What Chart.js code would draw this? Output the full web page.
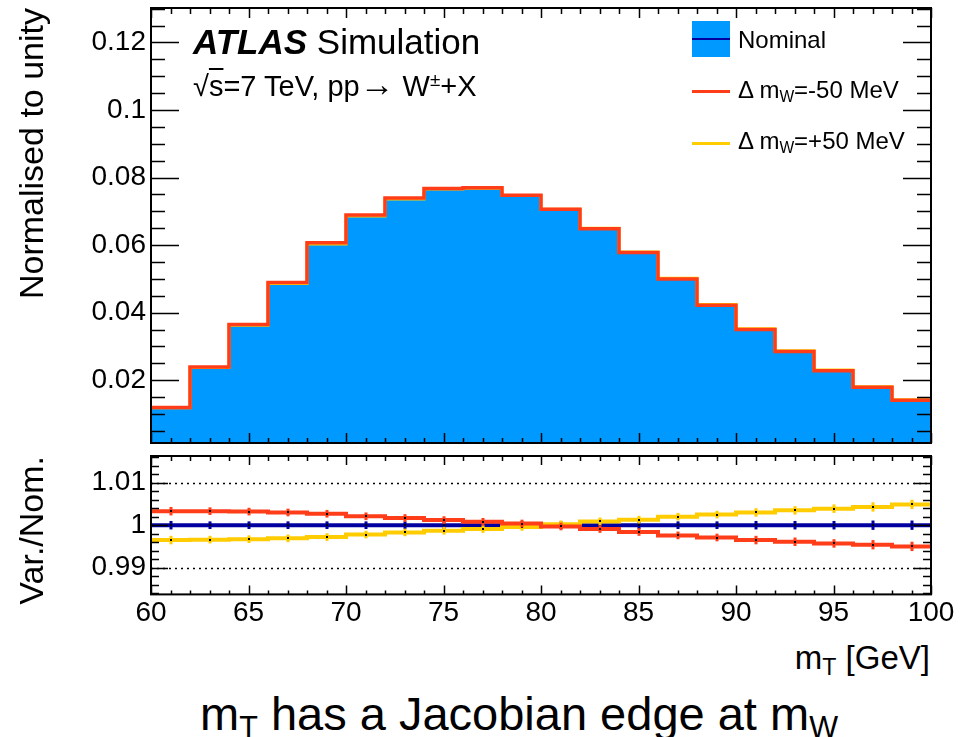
<!DOCTYPE html>
<html><head><meta charset="utf-8">
<script src="https://cdn.jsdelivr.net/npm/chart.js@4.4.1/dist/chart.umd.min.js"></script>
<style>
html,body{margin:0;padding:0;background:#fff;width:962px;height:737px;overflow:hidden;font-family:"Liberation Sans",Arial,sans-serif;}
canvas{position:absolute;left:0;}
#top{top:0;}
#bot{top:450px;}
.t{position:absolute;white-space:nowrap;color:#000;line-height:1;font-family:"Liberation Sans",Arial,sans-serif;}
.t sub{font-size:65%;vertical-align:-0.25em;line-height:0;}
.t sup{font-size:65%;vertical-align:0.55em;line-height:0;}
.sw{position:absolute;}
</style></head><body>
<canvas id="top" width="962" height="450"></canvas>
<canvas id="bot" width="962" height="182"></canvas>

<div class="t" style="left:193px;top:24px;font-size:35px;"><b><i>ATLAS</i></b> Simulation</div>
<div class="t" style="left:193px;top:72px;font-size:29px;">√<span style="text-decoration:overline">s</span>=7 TeV, pp<span style="font-size:120%;line-height:0">→</span> W<sup>±</sup>+X</div>

<div class="sw" style="left:692px;top:21px;width:38px;height:36px;background:#0099ff;"></div>
<div class="sw" style="left:692px;top:38px;width:38px;height:2px;background:#0000a0;"></div>
<div class="sw" style="left:692px;top:90px;width:38px;height:3px;background:rgb(255,61,24);"></div>
<div class="sw" style="left:692px;top:142px;width:38px;height:3px;background:rgb(255,204,0);"></div>
<div class="t" style="left:738px;top:28px;font-size:24px;">Nominal</div>
<div class="t" style="left:738px;top:78px;font-size:24px;">Δ m<sub>W</sub>=-50 MeV</div>
<div class="t" style="left:738px;top:129px;font-size:24px;">Δ m<sub>W</sub>=+50 MeV</div>

<div class="t" style="right:32px;top:641px;font-size:33px;">m<sub style="font-size:70%">T</sub> [GeV]</div>
<div class="t" style="left:200px;top:690px;font-size:47px;">m<sub>T</sub> has a Jacobian edge at m<sub>W</sub></div>

<script>
// ---- data ----
const binEdges = [60,62,64,66,68,70,72,74,76,78,80,82,84,86,88,90,92,94,96,98,100];
const nominal = [0.0119,0.0238,0.0364,0.0488,0.0605,0.0688,0.0738,0.0767,0.0769,0.0747,0.0706,0.0649,0.0579,0.0501,0.0423,0.0351,0.0286,0.0229,0.0180,0.0141];
const ratioNominal = [1,1,1,1,1,1,1,1,1,1,1,1,1,1,1,1,1,1,1,1];
const ratioMinus50 = [1.0033,1.0033,1.0032,1.0030,1.0027,1.0021,1.0017,1.0012,1.0008,1.0004,0.9997,0.9991,0.9984,0.9976,0.9971,0.9965,0.9961,0.9957,0.9954,0.9950];
const ratioPlus50 = [0.9965,0.9966,0.9967,0.9969,0.9972,0.9978,0.9983,0.9987,0.9991,0.9996,1.0002,1.0009,1.0013,1.0020,1.0025,1.0030,1.0035,1.0039,1.0043,1.0049];
const ratioErrors = [0.0010,0.0009,0.0009,0.0009,0.0009,0.0009,0.0009,0.0009,0.0009,0.0009,0.0009,0.0009,0.0009,0.0009,0.0009,0.0010,0.0010,0.0010,0.0011,0.0011];
const topTickValues = [0.02,0.04,0.06,0.08,0.1,0.12];
const topTickLabels = ['0.02','0.04','0.06','0.08','0.1','0.12'];
const ratioTickValues = [0.99,1,1.01];
const ratioTickLabels = ['0.99','1','1.01'];
const xTickValues = [60,65,70,75,80,85,90,95,100];
const xTickLabels = ['60','65','70','75','80','85','90','95','100'];

const RED = 'rgb(255,61,24)', YEL = 'rgb(255,204,0)', DBLUE = 'rgb(0,0,160)', FILL = '#0099ff';
const FONT = '"Liberation Sans", Arial, sans-serif';

function stepPts(vals){
  const p = vals.map((v,i)=>({x:binEdges[i], y:v}));
  p.push({x:binEdges[vals.length], y:vals[vals.length-1]});
  return p;
}
const upperMinus = nominal.map((v,i)=>v*ratioMinus50[i]);
const upperPlus = nominal.map((v,i)=>v*ratioPlus50[i]);

function frameTicks(cfg){
  return {
    id:'frameTicks',
    beforeDatasetsDraw(chart){
      if(!cfg.dotted) return;
      const ctx=chart.ctx, a=chart.chartArea, y=chart.scales.y;
      ctx.save(); ctx.strokeStyle='#000'; ctx.lineWidth=1.6; ctx.setLineDash([2,4]);
      cfg.dotted.forEach(v=>{const py=Math.round(y.getPixelForValue(v))+0.5; ctx.beginPath(); ctx.moveTo(a.left,py); ctx.lineTo(a.right,py); ctx.stroke();});
      ctx.restore();
    },
    afterDraw(chart){
      const ctx=chart.ctx, a=chart.chartArea, xs=chart.scales.x, ys=chart.scales.y;
      ctx.save(); ctx.strokeStyle='#000'; ctx.lineWidth=1.5;
      const loop=(min,max,step,fn)=>{for(let k=Math.ceil(min/step-1e-6);k*step<=max+1e-9;k++){fn(k*step);}};
      const isMaj=(v,step)=>Math.abs(v/step-Math.round(v/step))<1e-6;
      ctx.beginPath();
      loop(xs.min,xs.max,cfg.xMinor,v=>{
        const px=Math.round(xs.getPixelForValue(v))+0.5; const maj=isMaj(v,cfg.xMajor);
        const lb=maj?cfg.xBotMaj:cfg.xBotMin, lt=maj?cfg.xTopMaj:cfg.xTopMin;
        ctx.moveTo(px,a.bottom); ctx.lineTo(px,a.bottom-lb);
        ctx.moveTo(px,a.top); ctx.lineTo(px,a.top+lt);
      });
      loop(ys.min,ys.max,cfg.yMinor,v=>{
        const py=Math.round(ys.getPixelForValue(v))+0.5; const maj=isMaj(v,cfg.yMajor);
        const l=maj?cfg.yMaj:cfg.yMin;
        ctx.moveTo(a.left,py); ctx.lineTo(a.left+l,py);
        ctx.moveTo(a.right,py); ctx.lineTo(a.right-l,py);
      });
      ctx.stroke();
      ctx.lineWidth=2; ctx.strokeRect(a.left,a.top,a.right-a.left,a.bottom-a.top);
      ctx.restore();
    }
  };
}

const errBars = {
  id:'errBars',
  afterDatasetDraw(chart,args){
    const ds=chart.data.datasets[args.index];
    if(!ds.vals) return;
    const ctx=chart.ctx, xs=chart.scales.x, ys=chart.scales.y;
    ctx.save();
    ds.vals.forEach((v,i)=>{
      const cx=Math.round(xs.getPixelForValue((binEdges[i]+binEdges[i+1])/2));
      const y1=ys.getPixelForValue(v+ds.errs[i]), y2=ys.getPixelForValue(v-ds.errs[i]);
      ctx.strokeStyle=ds.borderColor; ctx.lineWidth=3;
      ctx.beginPath(); ctx.moveTo(cx,y1); ctx.lineTo(cx,y2); ctx.stroke();
      ctx.fillStyle='#000'; ctx.fillRect(cx-1,Math.round(ys.getPixelForValue(v))-1,2,2);
    });
    ctx.restore();
  }
};

function yScale(min,max,vals,labels,title,pad){
  return {
    min:min,max:max,
    afterFit(s){s.width=151;},
    afterBuildTicks(s){s.ticks=vals.map(v=>({value:v}));},
    ticks:{font:{size:28,family:FONT,lineHeight:0.02},color:'#000',padding:5,callback:(v,i)=>labels[i]},
    grid:{display:false,drawTicks:false},
    border:{display:false},
    title:{display:true,text:title,align:'end',color:'#000',font:{size:34,family:FONT},padding:{top:pad,bottom:0}}
  };
}

new Chart(document.getElementById('top'),{
  type:'line',
  data:{datasets:[
    {label:'Nominal',order:2,data:stepPts(nominal),stepped:'before',fill:'start',backgroundColor:FILL,borderColor:FILL,borderWidth:1,pointRadius:0},
    {label:'+50',order:1,data:stepPts(upperPlus),stepped:'before',fill:false,borderColor:YEL,borderWidth:3,pointRadius:0},
    {label:'-50',order:0,data:stepPts(upperMinus),stepped:'before',fill:false,borderColor:RED,borderWidth:3.5,pointRadius:0}
  ]},
  options:{
    responsive:false,animation:false,
    layout:{padding:{top:8,right:31,bottom:7,left:0}},
    plugins:{legend:{display:false},tooltip:{enabled:false}},
    scales:{
      x:{type:'linear',min:60,max:100,display:false},
      y:yScale(0.0014,0.1302,topTickValues,topTickLabels,'Normalised to unity',13)
    }
  },
  plugins:[frameTicks({xMajor:5,xMinor:1,xBotMaj:10,xBotMin:5,xTopMaj:10,xTopMin:6,yMajor:0.02,yMinor:0.005,yMaj:28,yMin:14})]
});

new Chart(document.getElementById('bot'),{
  type:'line',
  data:{datasets:[
    {label:'Nominal',order:2,data:stepPts(ratioNominal),vals:ratioNominal,errs:ratioErrors,stepped:'before',fill:false,borderColor:DBLUE,borderWidth:4,pointRadius:0},
    {label:'+50',order:1,data:stepPts(ratioPlus50),vals:ratioPlus50,errs:ratioErrors,stepped:'before',fill:false,borderColor:YEL,borderWidth:4,pointRadius:0},
    {label:'-50',order:0,data:stepPts(ratioMinus50),vals:ratioMinus50,errs:ratioErrors,stepped:'before',fill:false,borderColor:RED,borderWidth:4,pointRadius:0}
  ]},
  options:{
    responsive:false,animation:false,
    layout:{padding:{top:6,right:31,bottom:0,left:0}},
    plugins:{legend:{display:false},tooltip:{enabled:false}},
    scales:{
      x:{type:'linear',min:60,max:100,
        afterBuildTicks(s){s.ticks=xTickValues.map(v=>({value:v}));},
        ticks:{font:{size:28,family:FONT},color:'#000',padding:2,maxRotation:0,autoSkip:false,callback:(v,i)=>xTickLabels[i]},
        grid:{display:false,drawTicks:false},border:{display:false}},
      y:yScale(0.9837,1.0163,ratioTickValues,ratioTickLabels,'Var./Nom.',13)
    }
  },
  plugins:[errBars,frameTicks({dotted:[0.99,1.01],xMajor:5,xMinor:1,xBotMaj:9,xBotMin:4,xTopMaj:9,xTopMin:5,yMajor:0.01,yMinor:0.002,yMaj:17,yMin:8})]
});
</script>
</body></html>
